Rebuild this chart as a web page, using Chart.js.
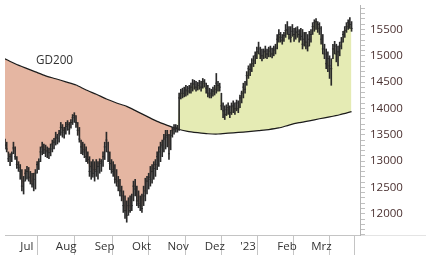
<!DOCTYPE html>
<html>
<head>
<meta charset="utf-8">
<script src="https://cdn.jsdelivr.net/npm/chart.js@4/dist/chart.umd.min.js"></script>
<style>
  html, body { margin: 0; padding: 0; background: #fff; }
  #wrap { width: 426px; height: 255px; }
</style>
</head>
<body>
<div id="wrap"><canvas id="c" width="426" height="255"></canvas></div>
<script>
// ── Daily bars, 20 Jun 2022 – 4 Apr 2023 (index = trading day) ──
const highs = [
  13420, 13360, 13175, 13140, 13175, 13360, 13270, 13085, 12990, 12935,
  12840, 12710, 12840, 12900, 12880, 12805, 12770, 12770, 12840, 12990,
  13045, 13270, 13360, 13325, 13305, 13270, 13250, 13325, 13400, 13435,
  13550, 13510, 13585, 13735, 13695, 13640, 13735, 13770, 13735, 13790,
  13885, 13920, 13865, 13735, 13640, 13400, 13360, 13325, 13270, 13175,
  13085, 12990, 13030, 12990, 13030, 12990, 13045, 13030, 13175, 13360,
  13550, 13360, 13175, 13030, 12990, 12935, 12840, 12710, 12655, 12525,
  12435, 12340, 12245, 12305, 12340, 12375, 12620, 12655, 12525, 12435,
  12340, 12375, 12525, 12675, 12710, 12770, 12900, 12935, 12990, 13030,
  13175, 13270, 13360, 13400, 13510, 13585, 13585, 13510, 13585, 13640,
  13695, 13695, 13680, 14290, 14365, 14385, 14405, 14440, 14420, 14440,
  14480, 14550, 14535, 14515, 14495, 14535, 14515, 14570, 14550, 14480,
  14440, 14385, 14365, 14405, 14440, 14665, 14515, 14480, 14290, 14105,
  14050, 14070, 14105, 14050, 14105, 14145, 14105, 14160, 14145, 14255,
  14330, 14480, 14515, 14700, 14810, 14850, 14945, 15000, 15075, 15165,
  15260, 15165, 15130, 15130, 15185, 15130, 15165, 15185, 15145, 15185,
  15220, 15405, 15500, 15445, 15405, 15445, 15595, 15650, 15555, 15555,
  15595, 15520, 15535, 15555, 15500, 15520, 15500, 15445, 15445, 15405,
  15465, 15500, 15630, 15685, 15705, 15650, 15630, 15555, 15405, 15220,
  15130, 15075, 15000, 14945, 15220, 15275, 15220, 15185, 15260, 15350,
  15465, 15555, 15630, 15685, 15725, 15650
];
const lows = [
  13230, 13175, 12990, 12915, 12990, 13140, 13030, 12860, 12805, 12655,
  12435, 12375, 12620, 12655, 12620, 12565, 12505, 12435, 12470, 12770,
  12840, 12990, 13120, 13140, 13085, 13065, 13045, 13100, 13175, 13230,
  13305, 13325, 13360, 13490, 13455, 13435, 13510, 13585, 13510, 13625,
  13695, 13735, 13640, 13490, 13360, 13140, 13120, 13065, 12990, 12955,
  12710, 12655, 12695, 12620, 12710, 12655, 12770, 12805, 12900, 13030,
  13175, 12990, 12840, 12770, 12710, 12580, 12525, 12435, 12340, 12245,
  12025, 11910, 11840, 11970, 12025, 12060, 12245, 12340, 12155, 12115,
  12060, 12025, 12155, 12245, 12375, 12470, 12525, 12580, 12655, 12710,
  12840, 12900, 12990, 13085, 13175, 13230, 13270, 13030, 13215, 13455,
  13510, 13550, 13550, 13585, 14180, 14200, 14220, 14235, 14255, 14290,
  14290, 14330, 14365, 14330, 14350, 14365, 14330, 14385, 14405, 14290,
  14220, 14200, 14200, 14235, 14255, 14290, 14330, 14330, 13975, 13825,
  13790, 13865, 13885, 13825, 13885, 13920, 13885, 13955, 13920, 14015,
  14105, 14200, 14290, 14440, 14570, 14625, 14700, 14795, 14850, 14945,
  15035, 14945, 14905, 14945, 14960, 14945, 14980, 14980, 14960, 15000,
  15035, 15130, 15260, 15260, 15220, 15275, 15350, 15405, 15315, 15260,
  15370, 15275, 15315, 15350, 15260, 15295, 15130, 15185, 15130, 15090,
  15185, 15260, 15405, 15465, 15500, 15445, 15405, 15220, 15035, 14945,
  14755, 14700, 14570, 14440, 14945, 15035, 14885, 14810, 15000, 15130,
  15260, 15350, 15445, 15500, 15520, 15465
];
const closes = [
  13305, 13230, 13045, 13085, 13140, 13250, 13085, 12935, 12880, 12805,
  12525, 12620, 12770, 12805, 12695, 12620, 12565, 12655, 12770, 12935,
  12990, 13175, 13270, 13215, 13175, 13195, 13160, 13230, 13325, 13360,
  13455, 13435, 13530, 13640, 13550, 13585, 13660, 13695, 13605, 13735,
  13825, 13865, 13735, 13585, 13420, 13270, 13175, 13215, 13085, 13030,
  12805, 12900, 12770, 12840, 12805, 12900, 12955, 12990, 13085, 13270,
  13400, 13175, 12955, 12840, 12805, 12655, 12620, 12525, 12435, 12340,
  12155, 12060, 11970, 12155, 12060, 12155, 12525, 12470, 12245, 12190,
  12155, 12100, 12340, 12435, 12620, 12695, 12655, 12805, 12860, 12935,
  13085, 13175, 13270, 13305, 13420, 13455, 13490, 13140, 13490, 13585,
  13605, 13640, 13625, 14200, 14290, 14330, 14290, 14350, 14330, 14385,
  14405, 14480, 14460, 14405, 14440, 14480, 14405, 14515, 14480, 14385,
  14290, 14255, 14290, 14330, 14365, 14480, 14440, 14405, 14050, 13955,
  13885, 13975, 14015, 13920, 14030, 14050, 13995, 14105, 13995, 14200,
  14290, 14405, 14365, 14625, 14755, 14740, 14850, 14905, 15000, 15075,
  15130, 15035, 15000, 15075, 15090, 15035, 15090, 15130, 15035, 15110,
  15145, 15315, 15405, 15350, 15295, 15390, 15480, 15500, 15405, 15350,
  15465, 15405, 15445, 15465, 15405, 15370, 15220, 15315, 15260, 15185,
  15315, 15405, 15555, 15630, 15650, 15595, 15520, 15315, 15130, 15035,
  14850, 14945, 14810, 14755, 15130, 15185, 15035, 15075, 15185, 15260,
  15405, 15480, 15555, 15630, 15595, 15520
];

// ── GD200 (200-day average), read every 6 trading days ──────────
const gdDays = [0, 6, 12, 18, 24, 30, 36, 42, 48, 54, 60, 66, 72, 78, 84, 90, 96, 102,
  108, 114, 120, 126, 132, 138, 144, 150, 156, 162, 168, 174, 180, 186, 192, 198, 205];
const gdVals = [14945, 14850, 14770, 14695, 14620, 14565, 14505, 14445, 14350, 14270,
  14180, 14105, 14040, 13945, 13850, 13755, 13680, 13610, 13565, 13540, 13520, 13515,
  13530, 13545, 13560, 13580, 13600, 13630, 13685, 13730, 13765, 13805, 13840, 13880, 13940];

// ── Axis ────────────────────────────────────────────────────────
const monthStarts = [9, 30, 53, 75, 96, 118, 139, 161, 181, 204];
const monthLabels = ['Jul', 'Aug', 'Sep', 'Okt', 'Nov', 'Dez', "'23", 'Feb', 'Mrz', ''];
const xMax = 210;
const yMin = 11597, yMax = 15965;

const BAR = '#2a2a2a';
const days = closes.map((_, i) => i);

Chart.defaults.font.family = '"Open Sans", sans-serif';
Chart.defaults.font.size = 11.5;

// GD200 caption + faint base line right of the price axis
const extras = {
  id: 'extras',
  afterDraw(chart) {
    const { ctx, chartArea } = chart;
    ctx.save();
    ctx.strokeStyle = '#e4e4e4';
    ctx.lineWidth = 1;
    ctx.beginPath();
    ctx.moveTo(chartArea.right + 1, Math.round(chartArea.bottom) + 0.5);
    ctx.lineTo(chart.width, Math.round(chartArea.bottom) + 0.5);
    ctx.stroke();
    ctx.font = '11.7px "Open Sans", sans-serif';
    ctx.fillStyle = '#333';
    ctx.textBaseline = 'middle';
    ctx.fillText('GD200', 36, 61);
    ctx.restore();
  }
};

new Chart(document.getElementById('c'), {
  type: 'line',
  data: {
    datasets: [
      {
        type: 'bar', label: 'range',
        data: days.map(i => ({ x: i, y: [lows[i], highs[i]] })),
        backgroundColor: BAR, borderWidth: 0, barThickness: 1, order: 1
      },
      {
        type: 'scatter', label: 'close tick',
        data: days.map(i => ({ x: i, y: closes[i] })),
        pointStyle: 'line', pointRadius: 1, borderColor: BAR, borderWidth: 1, order: 0
      },
      {
        type: 'line', label: 'GD200',
        data: gdDays.map((d, k) => ({ x: d, y: gdVals[k] })),
        borderColor: '#1c1c1c', borderWidth: 1.2, pointRadius: 0, tension: 0.2, order: 2
      },
      {
        type: 'line', label: 'close',
        data: days.map(i => ({ x: i, y: closes[i] })),
        borderColor: 'rgba(0,0,0,0)', borderWidth: 0, pointRadius: 0,
        fill: { target: 2, above: '#e5ebb4', below: '#e5b6a2' }, order: 3
      }
    ]
  },
  options: {
    responsive: false,
    animation: false,
    devicePixelRatio: 1,
    layout: { padding: 0 },
    plugins: { legend: { display: false }, tooltip: { enabled: false } },
    scales: {
      x: {
        type: 'linear', min: 0, max: xMax, offset: false,
        afterBuildTicks: s => {
          s.ticks = monthStarts.map(m => ({ value: m - 0.5 })).concat([{ value: xMax }]);
        },
        afterFit: s => { s.height = 20; s.paddingLeft = 0; s.paddingRight = 0; },
        grid: { drawOnChartArea: false, drawTicks: true, tickLength: 20, color: '#c4c4c4' },
        border: { display: true, color: '#c4c4c4' },
        ticks: {
          autoSkip: false, maxRotation: 0, align: 'start', padding: -15, color: '#333',
          labelOffset: 1,
          callback: (v, i) => monthLabels[i] || ''
        }
      },
      y: {
        position: 'right', min: yMin, max: yMax,
        afterFit: s => { s.width = 66; s.paddingTop = 0; s.paddingBottom = 0; },
        grid: { drawOnChartArea: false, drawTicks: true, tickLength: 5, color: '#c0c0c0' },
        border: { display: true, color: '#b4b4b4' },
        ticks: {
          stepSize: 100, autoSkip: false, includeBounds: false, padding: 5, color: '#4a3030',
          callback: v => (v % 500 === 0 ? String(v) : '')
        }
      }
    }
  },
  plugins: [extras]
});
</script>
</body>
</html>
